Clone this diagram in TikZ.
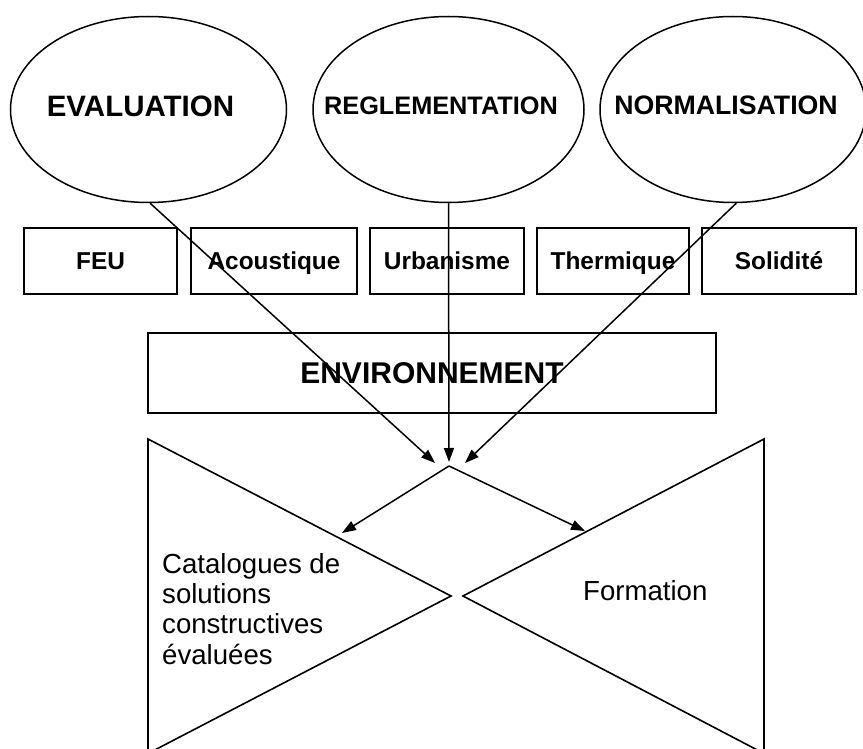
\documentclass[tikz,border=0pt]{standalone}
\usepackage{fontspec}
\setmainfont{Liberation Sans}
\usetikzlibrary{shapes.geometric,arrows.meta}
\begin{document}
\begin{tikzpicture}[x=1pt,y=-1pt,
  oval/.style={ellipse,draw,line width=1.5pt,inner sep=0pt,minimum height=186pt},
  ovaltext/.style={anchor=base,inner sep=0pt},
  box/.style={draw,line width=1.6pt,minimum height=66pt,inner sep=0pt,
    text height=17.5pt,text depth=0pt,font=\fontsize{24.4}{28}\selectfont\bfseries},
  conn/.style={line width=1.5pt},
  arr/.style={conn,-{Triangle[length=14pt,width=10pt]}},
  bowtie/.style={draw,line width=1.6pt,line join=miter},
  plain/.style={inner sep=0pt,font=\fontsize{27.6}{30.3}\selectfont}]
\useasboundingbox (0,0) rectangle (863,749);
\clip (0,0) rectangle (863,749);
% ellipses
\node[oval,minimum width=276pt] (e1) at (148.5,109.5) {};
\node[oval,minimum width=271pt] (e2) at (448.5,109.5) {};
\node[oval,minimum width=266pt] (e3) at (733,109.5) {};
\node[ovaltext,font=\fontsize{29.5}{32}\selectfont\bfseries] (t1) at (140.5,117) {EVALUATION};
\node[ovaltext,font=\fontsize{25.3}{28}\selectfont\bfseries] (t2) at (441,115) {REGLEMENTATION};
\node[ovaltext,font=\fontsize{26.7}{29}\selectfont\bfseries] (t3) at (726,115) {NORMALISATION};
% boxes
\node[box,minimum width=153pt] (b1) at (100.5,261) {FEU};
\node[box,minimum width=166pt] (b2) at (274,261) {Acoustique};
\node[box,minimum width=154pt] (b3) at (447,261) {Urbanisme};
\node[box,minimum width=152pt] (b4) at (613,261) {Thermique};
\node[box,minimum width=154pt] (b5) at (779,261) {Solidité};
\node[box,minimum width=568pt,minimum height=80pt,text height=21.5pt,
  font=\fontsize{30}{34}\selectfont\bfseries] (env) at (432,373) {ENVIRONNEMENT};
% bow tie
\draw[bowtie] (148,439) -- (451,596) -- (148,753.5) -- cycle;
\draw[bowtie] (764,439) -- (463,596) -- (764,753.5) -- cycle;
\node[plain,anchor=base west,align=left] (cat) at (162,664) {Catalogues de\\solutions\\constructives\\évaluées};
\node[plain,anchor=base west] (form) at (583,600) {Formation};
% connectors
\coordinate (J) at (449,466);
\coordinate (p1) at (435,463);
\coordinate (p2) at (449,462);
\coordinate (p3) at (465,463);
\coordinate (q1) at (342,533);
\coordinate (q2) at (585,531);
\draw[arr] (e1.-89) -- (p1);
\draw[arr] (e2.south) -- (p2);
\draw[arr] (e3.-88) -- (p3);
\draw[arr] (J) -- (q1);
\draw[arr] (J) -- (q2);
\end{tikzpicture}
\end{document}
